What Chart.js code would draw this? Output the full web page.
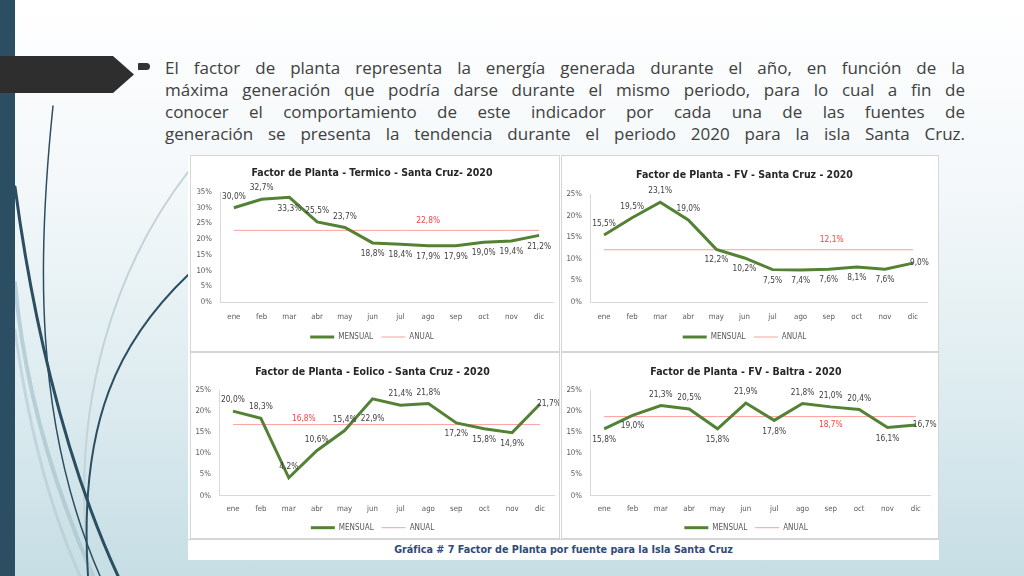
<!DOCTYPE html>
<html lang="es">
<head>
<meta charset="UTF-8">
<title>Factor de Planta 2020</title>
<script src="https://cdn.jsdelivr.net/npm/chart.js"></script>
<style>
    body { margin: 0; padding: 0; }
    #slide {
        position: relative;
        width: 1024px;
        height: 576px;
        overflow: hidden;
        background: linear-gradient(to bottom, #ffffff 0%, #f2f7f9 35%, #dcebef 70%, #c6dee4 100%);
    }
    #deco { position: absolute; left: 0; top: 0; }
    .bar { position: absolute; left: 0; top: 0; width: 15px; height: 576px; background: #2c4e63; }
    .bullet { position: absolute; left: 138px; top: 63px; width: 12px; height: 7px; background: #333; border-radius: 1px 4px 4px 1px; }
    .text {
        position: absolute;
        left: 165px;
        top: 57px;
        width: 800px;
        font-family: "Open Sans", sans-serif;
        font-size: 17px;
        line-height: 22px;
        color: #404040;
    }
    .text div { text-align: justify; text-align-last: justify; white-space: nowrap; }
    .panel { position: absolute; left: 188px; top: 155px; width: 751px; height: 405px; background: #fff; }
    .cell { position: absolute; box-sizing: border-box; border: 1px solid #d6d6d6; background: #fff; }
    .cell canvas { position: absolute; left: 0; top: 0; }
    .caption {
        position: absolute; left: 0; top: 384px; width: 751px; height: 20px;
        text-align: center; line-height: 20px;
        font-family: "DejaVu Sans Condensed", "DejaVu Sans", sans-serif;
        font-stretch: condensed;
        font-weight: bold; font-size: 10.7px; color: #2f4a7c;
        border-top: 1px solid #d6d6d6;
    }
</style>
</head>
<body>
<div id="slide">
    <svg id="deco" width="1024" height="576">
        <g fill="none" stroke-linecap="round">
            <path d="M15,283 C25,400 60,500 93,576" stroke="#a9c5cf" stroke-width="4" opacity="0.75"/>
            <path d="M15,330 C30,440 55,520 80,576" stroke="#b6cdd6" stroke-width="3" opacity="0.7"/>
            <path d="M188,172 C120,260 66,400 90,576" stroke="#c3d3d9" stroke-width="2"/>
            <path d="M53,106 C38,250 32,420 100,576" stroke="#2c4e63" stroke-width="1.5"/>
            <path d="M15,187 C30,300 60,450 118,576" stroke="#2c4e63" stroke-width="3"/>
            <path d="M188,275 C120,340 78,420 88,576" stroke="#2c4e63" stroke-width="2"/>
        </g>
    </svg>
    <div class="bar"></div>
    <svg style="position:absolute;left:0;top:0" width="140" height="100">
        <polygon points="0,56 113,56 134,74.5 113,93 0,93" fill="#2e2e2e"/>
    </svg>
    <div class="bullet"></div>
    <div class="text">
        <div>El factor de planta representa la energía generada durante el año, en función de la</div>
        <div>máxima generación que podría darse durante el mismo periodo, para lo cual a fin de</div>
        <div>conocer el comportamiento de este indicador por cada una de las fuentes de</div>
        <div>generación se presenta la tendencia durante el periodo 2020 para la isla Santa Cruz.</div>
    </div>
    <div class="panel">
        <div class="cell" style="left:2px;top:0;width:370px;height:197px"><canvas id="c1" width="368" height="196"></canvas></div>
        <div class="cell" style="left:373px;top:0;width:378px;height:197px"><canvas id="c2" width="376" height="196"></canvas></div>
        <div class="cell" style="left:2px;top:197px;width:370px;height:187px"><canvas id="c3" width="368" height="186"></canvas></div>
        <div class="cell" style="left:373px;top:197px;width:378px;height:187px"><canvas id="c4" width="376" height="186"></canvas></div>
        <div class="caption">Gráfica # 7 Factor de Planta por fuente para la Isla Santa Cruz</div>
    </div>
</div>
<script>
    // datos (%)
    const meses = ['ene', 'feb', 'mar', 'abr', 'may', 'jun', 'jul', 'ago', 'sep', 'oct', 'nov', 'dic'];

    const termicoMensual = [30.0, 32.7, 33.3, 25.5, 23.7, 18.8, 18.4, 17.9, 17.9, 19.0, 19.4, 21.2];
    const termicoAnual = 22.8;

    const fvSantaCruzMensual = [15.5, 19.5, 23.1, 19.0, 12.2, 10.2, 7.5, 7.4, 7.6, 8.1, 7.6, 9.0];
    const fvSantaCruzAnual = 12.1;

    const eolicoMensual = [20.0, 18.3, 4.2, 10.6, 15.4, 22.9, 21.4, 21.8, 17.2, 15.8, 14.9, 21.7];
    const eolicoAnual = 16.8;

    const fvBaltraMensual = [15.8, 19.0, 21.3, 20.5, 15.8, 21.9, 17.8, 21.8, 21.0, 20.4, 16.1, 16.7];
    const fvBaltraAnual = 18.7;

    // posicion de etiquetas: a = arriba, b = abajo, bb = mas abajo, r = derecha
    const termicoPos = ['a', 'a', 'b', 'a', 'a', 'b', 'b', 'b', 'b', 'b', 'b', 'b'];
    const fvSantaCruzPos = ['a', 'a', 'a', 'a', 'b', 'b', 'b', 'b', 'b', 'b', 'b', 'r'];
    const eolicoPos = ['a', 'a', 'a', 'a', 'a', 'bb', 'a', 'a', 'b', 'b', 'b', 'r'];
    const fvBaltraPos = ['b', 'b', 'a', 'a', 'b', 'a', 'b', 'a', 'a', 'a', 'b', 'r'];

    const FONT = '"DejaVu Sans Condensed", "DejaVu Sans", sans-serif';
    const GREEN = '#548235';
    const PINK = '#ff9e9e';

    function fmt(v) {
        return v.toFixed(1).replace('.', ',') + '%';
    }

    const valueLabels = {
        id: 'valueLabels',
        afterDatasetsDraw(chart, args, opts) {
            const ctx = chart.ctx;
            const values = chart.data.datasets[0].data;
            ctx.save();
            ctx.font = '8.3px ' + FONT;
            ctx.textBaseline = 'middle';
            ctx.fillStyle = '#404040';
            chart.getDatasetMeta(0).data.forEach((pt, i) => {
                const pos = opts.pos[i];
                let x = pt.x, y = pt.y;
                ctx.textAlign = 'center';
                if (pos === 'a') y -= 11;
                else if (pos === 'b') y += 11;
                else if (pos === 'bb') y += 20;
                else if (pos === 'r') { ctx.textAlign = 'left'; x -= 3; }
                ctx.fillText(fmt(values[i]), x, y);
            });
            // etiqueta de la linea anual
            const p = chart.getDatasetMeta(1).data[opts.anualIdx];
            ctx.fillStyle = '#ff4040';
            ctx.textAlign = 'center';
            ctx.fillText(fmt(chart.data.datasets[1].data[opts.anualIdx]), p.x + opts.anualDx, p.y + opts.anualDy);
            ctx.restore();
        }
    };

    function makeChart(id, title, mensual, anual, yMax, pos, lay) {
        const ctx = document.getElementById(id).getContext('2d');
        return new Chart(ctx, {
            type: 'line',
            data: {
                labels: meses,
                datasets: [{
                    label: 'MENSUAL',
                    data: mensual,
                    borderColor: GREEN,
                    backgroundColor: GREEN,
                    borderWidth: 3,
                    pointRadius: 0,
                    pointStyle: 'line',
                    tension: 0
                }, {
                    label: 'ANUAL',
                    data: meses.map(() => anual),
                    borderColor: PINK,
                    backgroundColor: PINK,
                    borderWidth: 1,
                    pointRadius: 0,
                    pointStyle: 'line'
                }]
            },
            options: {
                responsive: false,
                animation: false,
                layout: { padding: { left: 0, right: lay.right, top: 0, bottom: lay.bottom } },
                plugins: {
                    title: {
                        display: true,
                        text: title,
                        color: '#262626',
                        font: { family: FONT, size: 10.5, weight: 'bold' },
                        padding: { top: lay.titleTop, bottom: lay.titleBottom }
                    },
                    legend: {
                        position: 'bottom',
                        maxHeight: lay.legendH,
                        labels: {
                            usePointStyle: true,
                            pointStyleWidth: 24,
                            padding: lay.legendPad,
                            color: '#595959',
                            font: { family: FONT, size: 8 },
                            generateLabels: (chart) => {
                                const items = Chart.defaults.plugins.legend.labels.generateLabels(chart);
                                items[0].text += '\u2002'.repeat(lay.legendGap);
                                return items;
                            }
                        }
                    },
                    tooltip: { enabled: false },
                    valueLabels: { pos: pos, anualIdx: lay.anualIdx, anualDx: lay.anualDx, anualDy: lay.anualDy }
                },
                scales: {
                    x: {
                        offset: true,
                        grid: { display: false, drawTicks: false },
                        border: { display: true, color: '#d9d9d9' },
                        ticks: { color: '#595959', padding: lay.xPad, autoSkip: false, maxRotation: 0, font: { family: FONT, size: 7.8 } }
                    },
                    y: {
                        min: 0,
                        max: yMax,
                        afterFit: (s) => { s.width = lay.left; },
                        grid: { display: false, drawTicks: false },
                        border: { display: true, color: '#d9d9d9' },
                        ticks: {
                            stepSize: 5,
                            autoSkip: false,
                            color: '#595959',
                            padding: 8,
                            font: { family: FONT, size: 7.8 },
                            callback: (v) => v + '%'
                        }
                    }
                }
            },
            plugins: [valueLabels]
        });
    }

    makeChart('c1', 'Factor de Planta - Termico - Santa Cruz- 2020', termicoMensual, termicoAnual, 35, termicoPos,
        { left: 29, right: 6, bottom: 4, xPad: 10.3, legendH: 16, legendPad: 1, legendGap: 2,
          titleTop: 10.7, titleBottom: 12.7, anualIdx: 7, anualDx: 0, anualDy: -10 });
    makeChart('c2', 'Factor de Planta - FV - Santa Cruz - 2020', fvSantaCruzMensual, fvSantaCruzAnual, 25, fvSantaCruzPos,
        { left: 28, right: 11, bottom: 4, xPad: 10.3, legendH: 16, legendPad: 1, legendGap: 2,
          titleTop: 12.7, titleBottom: 12.7, anualIdx: 8, anualDx: 3, anualDy: -10 });
    makeChart('c3', 'Factor de Planta - Eolico - Santa Cruz - 2020', eolicoMensual, eolicoAnual, 25, eolicoPos,
        { left: 28, right: 5, bottom: 0, xPad: 9.07, legendH: 16, legendPad: 0.7, legendGap: 2,
          titleTop: 12.7, titleBottom: 11.7, anualIdx: 2, anualDx: 15, anualDy: -6 });
    makeChart('c4', 'Factor de Planta - FV - Baltra - 2020', fvBaltraMensual, fvBaltraAnual, 25, fvBaltraPos,
        { left: 28, right: 8, bottom: 0, xPad: 9.07, legendH: 16, legendPad: 0.7, legendGap: 2,
          titleTop: 12.7, titleBottom: 11.7, anualIdx: 8, anualDx: 0, anualDy: 8 });
</script>
</body>
</html>
